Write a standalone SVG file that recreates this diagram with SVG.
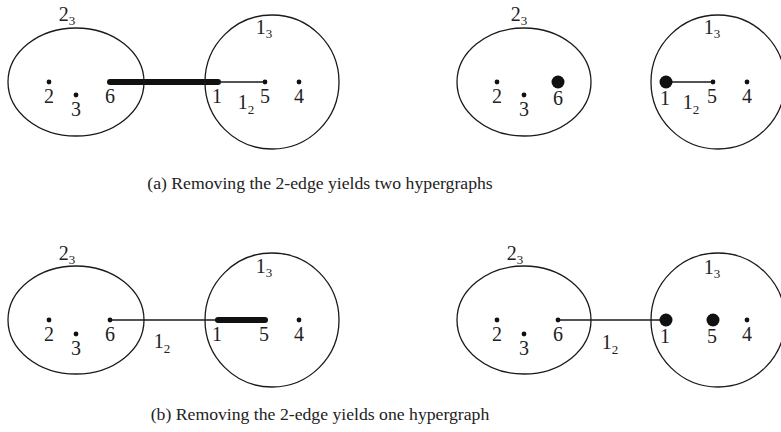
<svg xmlns="http://www.w3.org/2000/svg" width="781" height="432" viewBox="0 0 781 432">
<style>
.set{fill:none;stroke:#1a1a1a;stroke-width:1.3}
.e{stroke:#1a1a1a;stroke-width:1.3;fill:none}
.thick{stroke:#111;stroke-width:6;stroke-linecap:round}
.v{fill:#111}
text{font-family:"Liberation Serif","Times New Roman",serif;fill:#222}
.l{font-size:20px;text-anchor:middle}
.s{font-size:13px}
.cap{font-size:17.7px;text-anchor:middle}
</style>
<rect width="781" height="432" fill="#fff"/>
<g id="connectors">
<line class="thick" x1="110" y1="82" x2="218" y2="82"/>
<line class="e" x1="218" y1="82" x2="265" y2="82"/>
<line class="e" x1="666" y1="82" x2="713" y2="82"/>
<line class="e" x1="110" y1="320" x2="218" y2="320"/>
<line class="thick" x1="218" y1="320" x2="265" y2="320"/>
<line class="e" x1="558" y1="320" x2="666" y2="320"/>
</g>
<g id="a-left-set2">
<ellipse class="set" cx="76" cy="82" rx="68" ry="54"/>
<text class="l" x="67" y="21">2<tspan class="s" dy="4">3</tspan></text>
</g>
<g id="a-left-set1">
<circle class="set" cx="272" cy="82" r="67"/>
<text class="l" x="264" y="34">1<tspan class="s" dy="4">3</tspan></text>
<text class="l" x="246" y="109">1<tspan class="s" dy="5">2</tspan></text>
</g>
<g id="a-left-v2"><circle class="v" cx="49" cy="82" r="2.4"/><text class="l" x="49" y="103">2</text></g>
<g id="a-left-v3"><circle class="v" cx="76" cy="95" r="2.4"/><text class="l" x="76" y="116">3</text></g>
<g id="a-left-v6"><text class="l" x="110" y="103">6</text></g>
<g id="a-left-v1"><text class="l" x="217" y="103">1</text></g>
<g id="a-left-v5"><circle class="v" cx="265" cy="82" r="2.4"/><text class="l" x="265" y="103">5</text></g>
<g id="a-left-v4"><circle class="v" cx="299" cy="82" r="2.4"/><text class="l" x="299" y="103">4</text></g>

<g id="a-right-set2">
<ellipse class="set" cx="524" cy="82" rx="67" ry="54"/>
<text class="l" x="519" y="21">2<tspan class="s" dy="4">3</tspan></text>
</g>
<g id="a-right-set1">
<circle class="set" cx="718" cy="82" r="67"/>
<text class="l" x="712" y="34">1<tspan class="s" dy="4">3</tspan></text>
<text class="l" x="691" y="109">1<tspan class="s" dy="5">2</tspan></text>
</g>
<g id="a-right-v2"><circle class="v" cx="497" cy="82" r="2.4"/><text class="l" x="497" y="103">2</text></g>
<g id="a-right-v3"><circle class="v" cx="524" cy="95" r="2.4"/><text class="l" x="524" y="116">3</text></g>
<g id="a-right-v6"><circle class="v" cx="558" cy="82" r="6.5"/><text class="l" x="558" y="105">6</text></g>
<g id="a-right-v1"><circle class="v" cx="666" cy="82" r="6.5"/><text class="l" x="665" y="105">1</text></g>
<g id="a-right-v5"><circle class="v" cx="713" cy="82" r="2.4"/><text class="l" x="712" y="103">5</text></g>
<g id="a-right-v4"><circle class="v" cx="747" cy="82" r="2.4"/><text class="l" x="747" y="103">4</text></g>

<text class="cap" x="320" y="189">(a) Removing the 2-edge yields two hypergraphs</text>

<g id="b-left-set2">
<ellipse class="set" cx="76" cy="320" rx="68" ry="54"/>
<text class="l" x="67" y="260">2<tspan class="s" dy="4">3</tspan></text>
</g>
<g id="b-left-set1">
<circle class="set" cx="272" cy="320" r="67"/>
<text class="l" x="264" y="273">1<tspan class="s" dy="4">3</tspan></text>
<text class="l" x="162" y="348">1<tspan class="s" dy="5">2</tspan></text>
</g>
<g id="b-left-v2"><circle class="v" cx="49" cy="320" r="2.4"/><text class="l" x="49" y="341">2</text></g>
<g id="b-left-v3"><circle class="v" cx="76" cy="334" r="2.4"/><text class="l" x="76" y="355">3</text></g>
<g id="b-left-v6"><circle class="v" cx="110" cy="320" r="2.4"/><text class="l" x="110" y="341">6</text></g>
<g id="b-left-v1"><text class="l" x="217" y="341">1</text></g>
<g id="b-left-v5"><text class="l" x="264" y="341">5</text></g>
<g id="b-left-v4"><circle class="v" cx="299" cy="320" r="2.4"/><text class="l" x="299" y="341">4</text></g>

<g id="b-right-set2">
<ellipse class="set" cx="524" cy="320" rx="67" ry="54"/>
<text class="l" x="515" y="260">2<tspan class="s" dy="4">3</tspan></text>
</g>
<g id="b-right-set1">
<circle class="set" cx="718" cy="320" r="67"/>
<text class="l" x="712" y="274">1<tspan class="s" dy="4">3</tspan></text>
<text class="l" x="610" y="349">1<tspan class="s" dy="5">2</tspan></text>
</g>
<g id="b-right-v2"><circle class="v" cx="497" cy="320" r="2.4"/><text class="l" x="497" y="341">2</text></g>
<g id="b-right-v3"><circle class="v" cx="524" cy="334" r="2.4"/><text class="l" x="524" y="355">3</text></g>
<g id="b-right-v6"><circle class="v" cx="558" cy="320" r="2.4"/><text class="l" x="558" y="341">6</text></g>
<g id="b-right-v1"><circle class="v" cx="666" cy="320" r="6.5"/><text class="l" x="665" y="343">1</text></g>
<g id="b-right-v5"><circle class="v" cx="713" cy="320" r="6.5"/><text class="l" x="712" y="343">5</text></g>
<g id="b-right-v4"><circle class="v" cx="747" cy="320" r="2.4"/><text class="l" x="747" y="341">4</text></g>

<text class="cap" x="320" y="420">(b) Removing the 2-edge yields one hypergraph</text>
</svg>
